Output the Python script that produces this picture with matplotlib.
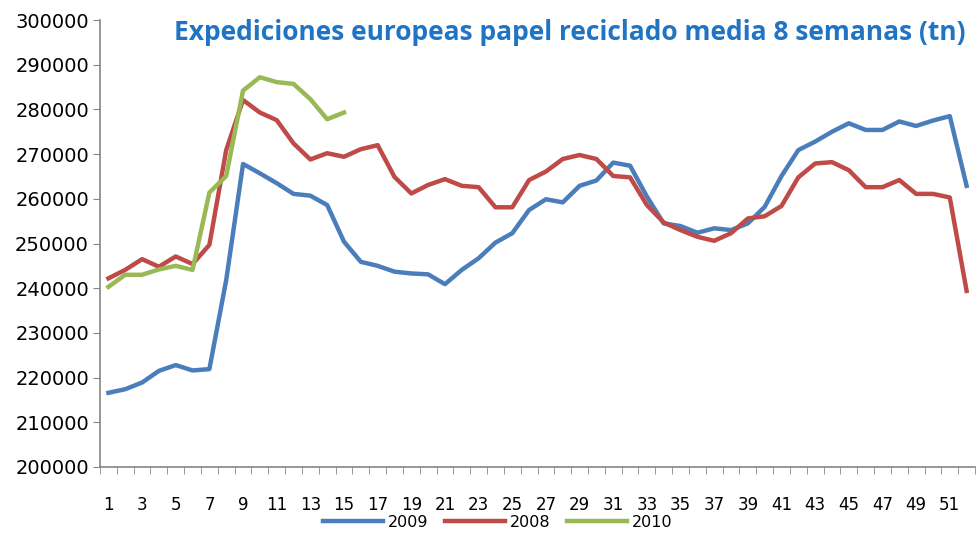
import matplotlib.pyplot as plt
import numpy as np

# semanas 1..52
weeks = np.arange(1, 53)

s2009 = [216600, 217400, 218900, 221500, 222800, 221600, 221900, 241800, 267800, 265700,
         263500, 261100, 260700, 258600, 250400, 245900, 245000, 243700, 243300, 243100,
         240900, 244100, 246700, 250200, 252300, 257500, 259900, 259200, 262900, 264100,
         268100, 267400, 260500, 254500, 253900, 252400, 253400, 253000, 254500, 258200,
         265100, 270900, 272800, 275000, 276900, 275400, 275400, 277300, 276300, 277500,
         278500, 262900]
s2008 = [242200, 244100, 246500, 244800, 247100, 245400, 249700, 270900, 282100, 279300,
         277600, 272400, 268800, 270200, 269400, 271100, 272000, 264900, 261200, 263100,
         264400, 262900, 262600, 258100, 258100, 264200, 266100, 268900, 269800, 268900,
         265100, 264800, 258600, 254700, 253000, 251500, 250600, 252300, 255600, 256100,
         258400, 264800, 267900, 268200, 266400, 262600, 262600, 264200, 261100, 261100,
         260300, 239400]
s2010 = [240300, 243000, 243000, 244200, 245000, 244100, 261400, 265100, 284200, 287200,
         286100, 285700, 282300, 277800, 279300]

fig = plt.figure(figsize=(9.76, 5.33), dpi=100)
ax = fig.add_axes([100/976, 1-467/533, 1-100/976 - 0.001, (467-20)/533])

ax.plot(weeks, s2009, color='#4A7EBB', lw=3.2, label='2009', solid_joinstyle='round')
ax.plot(weeks, s2008, color='#BE4B48', lw=3.2, label='2008', solid_joinstyle='round')
ax.plot(weeks[:len(s2010)], s2010, color='#98B954', lw=3.2, label='2010', solid_joinstyle='round')

ax.set_xlim(0.5, 52.5)
ax.set_ylim(200000, 300000)
ax.set_yticks(np.arange(200000, 300001, 10000))
ax.set_xticks(np.arange(1, 53, 2))
ax.set_xticks(np.arange(0.5, 53, 1), minor=True)

for s in ['top', 'right']:
    ax.spines[s].set_visible(False)
for s in ['left', 'bottom']:
    ax.spines[s].set_color('#868686')
    ax.spines[s].set_linewidth(1.2)

ax.tick_params(axis='y', direction='out', length=5, color='#868686', labelsize=14, pad=3)
ax.tick_params(axis='x', which='major', length=0, labelsize=12, pad=21)
ax.tick_params(axis='x', which='minor', direction='out', length=5, color='#868686')

fig.text(965/976, 1-32/533, 'Expediciones europeas papel reciclado media 8 semanas (tn)',
         ha='right', va='center', fontsize=19, fontweight='bold', color='#1F75C4',
         family='Open Sans')

fig.legend(loc='lower center', bbox_to_anchor=(0.51, 0.006), ncol=3, frameon=False,
           fontsize=11.5, handlelength=3.8, columnspacing=1.0, handletextpad=0.3,
           borderpad=0.0, borderaxespad=0.0)

fig.savefig('out.png', dpi=100)
